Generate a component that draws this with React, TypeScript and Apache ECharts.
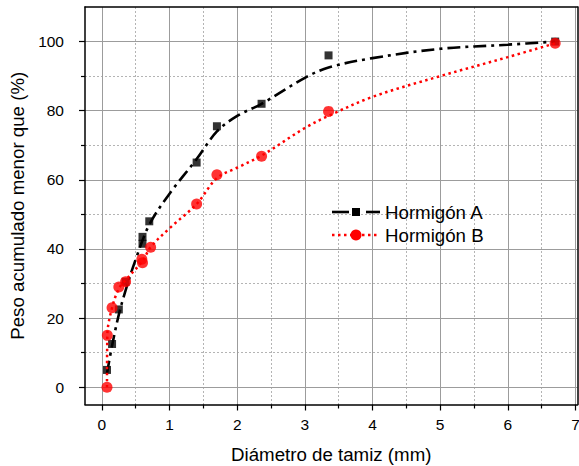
import React, { useEffect, useRef } from 'react';
import * as echarts from 'echarts';

// ---- data ----
const xMajorTicks = [0, 1, 2, 3, 4, 5, 6, 7];
const xMinorTicks = [0.5, 1.5, 2.5, 3.5, 4.5, 5.5, 6.5];
const yMajorTicks = [0, 20, 40, 60, 80, 100];
const yMinorTicks = [10, 30, 50, 70, 90];

const seriesNames = ['Hormigón A', 'Hormigón B'];

// measured points, Hormigón A
const aSieve = [0.075, 0.15, 0.25, 0.35, 0.6, 0.6, 0.7, 1.4, 1.7, 2.36, 3.35, 6.7];
const aPassing = [5, 12.5, 22.5, 30.5, 43.5, 41.5, 48, 65, 75.5, 82, 96, 100];
// fitted curve, Hormigón A
const aCurveX = [0.075, 0.15, 0.25, 0.35, 0.5, 0.7, 1.0, 1.4, 1.7, 2.0, 2.36, 3.0, 3.35, 4.0, 5.0, 6.0, 6.7];
const aCurveY = [4, 12, 21, 28, 37, 47, 56, 66, 74, 78.5, 82, 89.5, 92.5, 95.2, 97.9, 99.1, 100];
// measured points, Hormigón B
const bSieve = [0.075, 0.08, 0.15, 0.25, 0.35, 0.59, 0.6, 0.72, 1.4, 1.7, 2.36, 3.35, 6.7];
const bPassing = [0, 15, 23, 29, 30.5, 37, 36, 40.5, 53, 61.5, 66.8, 79.8, 99.5];
// fitted curve, Hormigón B
const bCurveX = [0.075, 0.08, 0.15, 0.25, 0.35, 0.6, 0.72, 1.0, 1.4, 1.7, 2.0, 2.36, 3.0, 3.35, 4.0, 5.0, 6.0, 6.7];
const bCurveY = [0, 15, 23, 28.5, 31, 36.5, 40.5, 46, 53, 60.5, 63.5, 67, 75, 78.5, 84, 90, 95.5, 99.5];

const zip = (xs: number[], ys: number[]) => xs.map((x, i) => [x, ys[i]]);
const FONT = '"Liberation Sans", Arial, Helvetica, sans-serif';

export default function App() {
  const ref = useRef<HTMLDivElement>(null);

  useEffect(() => {
    if (!ref.current) return;
    const chart = echarts.init(ref.current, null, { renderer: 'svg' });
    const majorTick = { show: true, length: 6, lineStyle: { color: '#000', width: 1.2 } };
    const minorTick = { show: true, length: 4, lineStyle: { color: '#000', width: 1.2 } };
    const axisLine = { show: true, onZero: false, lineStyle: { color: '#000', width: 1.5 } };
    const majorSplit = { show: true, lineStyle: { color: '#9c9c9c', width: 1, type: 'solid' } };
    const minorSplit = { show: true, lineStyle: { color: '#b4b4b4', width: 1, type: [2, 2] } };
    const xRange = { min: -0.25, max: 7.03 };
    const yRange = { min: -5, max: 110 };

    chart.setOption({
      animation: false,
      backgroundColor: '#fff',
      grid: { left: 85, right: 1.5, top: 7, bottom: 61.5, show: false, containLabel: false, outerBoundsMode: 'none' },
      xAxis: [
        {
          type: 'value', ...xRange, position: 'bottom', axisLine,
          axisTick: { ...majorTick, customValues: xMajorTicks },
          axisLabel: { customValues: xMajorTicks, fontSize: 15.5, color: '#000', margin: 12, fontFamily: FONT },
          splitLine: majorSplit,
          name: 'Diámetro de tamiz (mm)', nameLocation: 'middle', nameGap: 40,
          nameTextStyle: { fontSize: 18.7, color: '#000', fontFamily: FONT }, z: 2,
        },
        {
          type: 'value', ...xRange, position: 'bottom', axisLine: { show: false, onZero: false },
          axisTick: { ...minorTick, customValues: xMinorTicks }, axisLabel: { show: false }, splitLine: minorSplit, z: 1,
        },
        { type: 'value', ...xRange, position: 'top', axisLine, axisTick: { show: false }, axisLabel: { show: false }, splitLine: { show: false }, z: 2 },
      ],
      yAxis: [
        {
          type: 'value', ...yRange, position: 'left', axisLine,
          axisTick: { ...majorTick, customValues: yMajorTicks },
          axisLabel: { customValues: yMajorTicks, fontSize: 15.5, color: '#000', margin: 21, fontFamily: FONT },
          splitLine: majorSplit,
          name: 'Peso acumulado menor que (%)', nameLocation: 'middle', nameGap: 57, nameRotate: 90,
          nameTextStyle: { fontSize: 18.7, color: '#000', fontFamily: FONT }, z: 2,
        },
        {
          type: 'value', ...yRange, position: 'left', axisLine: { show: false, onZero: false },
          axisTick: { ...minorTick, customValues: yMinorTicks }, axisLabel: { show: false }, splitLine: minorSplit, z: 1,
        },
        { type: 'value', ...yRange, position: 'right', axisLine, axisTick: { show: false }, axisLabel: { show: false }, splitLine: { show: false }, z: 2 },
      ],
      series: [
        {
          name: seriesNames[0] + ' curva', type: 'line', data: zip(aCurveX, aCurveY), smooth: 0.35,
          symbol: 'none', showSymbol: false, silent: true,
          lineStyle: { color: '#000', width: 2.6, type: [13, 5, 3, 5] }, z: 3,
        },
        { name: seriesNames[0], type: 'scatter', data: zip(aSieve, aPassing), symbol: 'rect', symbolSize: 8, itemStyle: { color: '#000' }, z: 4, silent: true },
        {
          name: seriesNames[1] + ' curva', type: 'line', data: zip(bCurveX, bCurveY), smooth: 0.35,
          symbol: 'none', showSymbol: false, silent: true,
          lineStyle: { color: '#ff0000', width: 2.5, type: [2.5, 3.5] }, z: 5,
        },
        { name: seriesNames[1], type: 'scatter', data: zip(bSieve, bPassing), symbol: 'circle', symbolSize: 11, itemStyle: { color: '#ff0000' }, z: 6, silent: true },
      ],
      graphic: [
        { type: 'line', shape: { x1: 332, y1: 212, x2: 349, y2: 212 }, style: { stroke: '#000', lineWidth: 2.6 }, z: 100 },
        { type: 'rect', shape: { x: 352, y: 208, width: 8, height: 8 }, style: { fill: '#000' }, z: 100 },
        { type: 'line', shape: { x1: 366, y1: 212, x2: 380, y2: 212 }, style: { stroke: '#000', lineWidth: 2.6 }, z: 100 },
        { type: 'text', x: 385, y: 212, z: 100, style: { text: seriesNames[0], fontSize: 18.7, fill: '#000', fontFamily: FONT, verticalAlign: 'middle', align: 'left' } },
        { type: 'line', shape: { x1: 332, y1: 235, x2: 380, y2: 235 }, style: { stroke: '#ff0000', lineWidth: 2.5, lineDash: [2.5, 3.5] }, z: 100 },
        { type: 'circle', shape: { cx: 356, cy: 235, r: 5.5 }, style: { fill: '#ff0000' }, z: 100 },
        { type: 'text', x: 385, y: 235, z: 100, style: { text: seriesNames[1], fontSize: 18.7, fill: '#000', fontFamily: FONT, verticalAlign: 'middle', align: 'left' } },
      ],
    });
    return () => chart.dispose();
  }, []);

  return <div ref={ref} style={{ position: 'fixed', left: 0, top: 0, width: 579, height: 466, background: '#fff' }} />;
}
